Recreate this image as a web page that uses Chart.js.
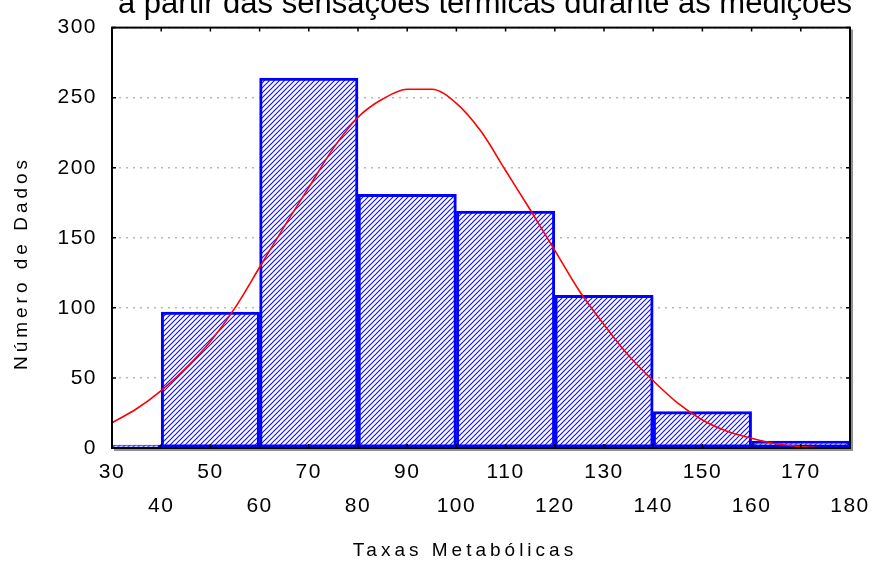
<!DOCTYPE html>
<html>
<head>
<meta charset="utf-8">
<script src="https://cdn.jsdelivr.net/npm/chart.js@4.4.0/dist/chart.umd.min.js"></script>
<style>
  html, body { margin: 0; padding: 0; background: #fff; }
  #wrap { width: 875px; height: 562px; }
</style>
</head>
<body>
<div id="wrap"><canvas id="grafico" width="875" height="562"></canvas></div>
<script>
// histograma: centros das classes (largura 20) e contagens
const binCenters = [30, 50, 70, 90, 110, 130, 150, 170];
const binCounts = [2, 97, 264, 181, 169, 109, 26, 5];

// curva normal ajustada
const curveX = [30, 35, 40, 45, 50, 55, 60, 65, 70, 75, 80, 85, 90, 95, 100,
  105, 110, 115, 120, 125, 130, 135, 140, 145, 150, 155, 160, 165, 170, 175];
const curveY = [18, 28, 41, 57, 76, 100, 129, 158, 186, 214, 236, 249, 256, 256, 246,
  226, 198, 170, 141, 112, 88, 66, 48, 32, 20, 12, 7, 3, 1, 0];

const xMin = 30, xMax = 180, xStep = 10;
const yMin = 0, yMax = 300, yStep = 50;

const titulo = 'a partir das sensações térmicas durante as medições';
const tituloX = 'Taxas Metabólicas';
const tituloY = 'Número de Dados';

const fonte = '"Liberation Sans", Arial, sans-serif';

// padrão hachurado azul
function hachura() {
  const s = 5;
  const c = document.createElement('canvas');
  c.width = s; c.height = s;
  const g = c.getContext('2d');
  g.fillStyle = '#ffffff';
  g.fillRect(0, 0, s, s);
  g.strokeStyle = '#1414ff';
  g.lineWidth = 1.2;
  g.beginPath();
  g.moveTo(-1, s + 1); g.lineTo(s + 1, -1);
  g.moveTo(-1, 1); g.lineTo(1, -1);
  g.moveTo(s - 1, s + 1); g.lineTo(s + 1, s - 1);
  g.stroke();
  return g.createPattern(c, 'repeat');
}

const moldura = {
  id: 'moldura',
  beforeDraw(chart) {
    chart.ctx.letterSpacing = '1.5px';
  },
  afterDatasetsDraw(chart) {
    const { ctx, chartArea: a } = chart;
    const sx = chart.scales.x, sy = chart.scales.y;
    ctx.save();
    ctx.letterSpacing = '0px';
    // sombra
    ctx.strokeStyle = '#909090';
    ctx.lineWidth = 2;
    ctx.beginPath();
    ctx.moveTo(a.right + 2, a.top + 2); ctx.lineTo(a.right + 2, a.bottom + 2);
    ctx.lineTo(a.left + 2, a.bottom + 2);
    ctx.stroke();
    // moldura
    ctx.strokeStyle = '#000';
    ctx.lineWidth = 2;
    ctx.strokeRect(a.left, a.top, a.right - a.left, a.bottom - a.top);
    // marcas internas
    ctx.lineWidth = 1.5;
    ctx.beginPath();
    sx.ticks.forEach((t) => {
      const px = sx.getPixelForValue(t.value);
      ctx.moveTo(px, a.top); ctx.lineTo(px, a.top + 4);
      ctx.moveTo(px, a.bottom); ctx.lineTo(px, a.bottom - 4);
    });
    sy.ticks.forEach((t) => {
      const py = sy.getPixelForValue(t.value);
      ctx.moveTo(a.left, py); ctx.lineTo(a.left + 4, py);
      ctx.moveTo(a.right, py); ctx.lineTo(a.right - 4, py);
    });
    ctx.stroke();
    ctx.restore();
  },
  afterDraw(chart) {
    const { ctx } = chart;
    ctx.save();
    ctx.fillStyle = '#000';
    ctx.textAlign = 'center';
    // título cortado no topo
    ctx.letterSpacing = '0px';
    ctx.font = '31px ' + fonte;
    ctx.textBaseline = 'alphabetic';
    ctx.fillText(titulo, 485, 13);
    // títulos dos eixos
    ctx.font = '19px ' + fonte;
    ctx.letterSpacing = '4px';
    ctx.textBaseline = 'middle';
    ctx.fillText(tituloX, 465, 551);
    ctx.translate(22, 263);
    ctx.rotate(-Math.PI / 2);
    ctx.fillText(tituloY, 0, 0);
    ctx.restore();
  }
};

const ctx = document.getElementById('grafico').getContext('2d');

new Chart(ctx, {
  data: {
    datasets: [
      {
        type: 'line',
        order: 0,
        data: curveX.map((x, i) => ({ x, y: curveY[i] })),
        borderColor: '#ff0000',
        borderWidth: 1.6,
        pointRadius: 0,
        cubicInterpolationMode: 'monotone',
        xAxisID: 'x',
        yAxisID: 'y',
      },
      {
        type: 'bar',
        order: 1,
        data: binCenters.map((x, i) => ({ x, y: binCounts[i] })),
        backgroundColor: hachura(),
        borderColor: '#0000ff',
        borderWidth: 3,
        borderSkipped: false,
        grouped: false,
        barPercentage: 1,
        categoryPercentage: 1,
        xAxisID: 'xBins',
        yAxisID: 'y',
      },
    ],
  },
  options: {
    responsive: false,
    animation: false,
    events: [],
    layout: { padding: { top: 21, right: 25, bottom: 0, left: 0 } },
    plugins: {
      legend: { display: false },
      title: { display: false },
      tooltip: { enabled: false },
    },
    scales: {
      x: {
        type: 'linear',
        position: 'bottom',
        min: xMin,
        max: xMax,
        offset: false,
        grid: { display: false, drawTicks: false },
        border: { display: false },
        afterFit: (s) => { s.height = 114; },
        ticks: {
          stepSize: xStep,
          autoSkip: false,
          maxRotation: 0,
          padding: 7,
          color: '#000',
          font: { family: fonte, size: 21, lineHeight: 34 / 21 },
          callback: (v) => (((v - xMin) / xStep) % 2 === 0 ? [String(v)] : ['', String(v)]),
        },
      },
      xBins: {
        type: 'linear',
        display: false,
        min: xMin,
        max: xMax,
        offset: false,
        ticks: { autoSkip: false },
        afterBuildTicks: (s) => { s.ticks = binCenters.map((v) => ({ value: v })); },
      },
      y: {
        min: yMin,
        max: yMax,
        grid: { color: '#b8b8b8', lineWidth: 1.6, drawTicks: false },
        border: { display: false, dash: [2, 5] },
        afterFit: (s) => { s.width = 112; },
        ticks: {
          stepSize: yStep,
          padding: 15,
          color: '#000',
          font: { family: fonte, size: 21 },
        },
      },
    },
  },
  plugins: [moldura],
});
</script>
</body>
</html>
